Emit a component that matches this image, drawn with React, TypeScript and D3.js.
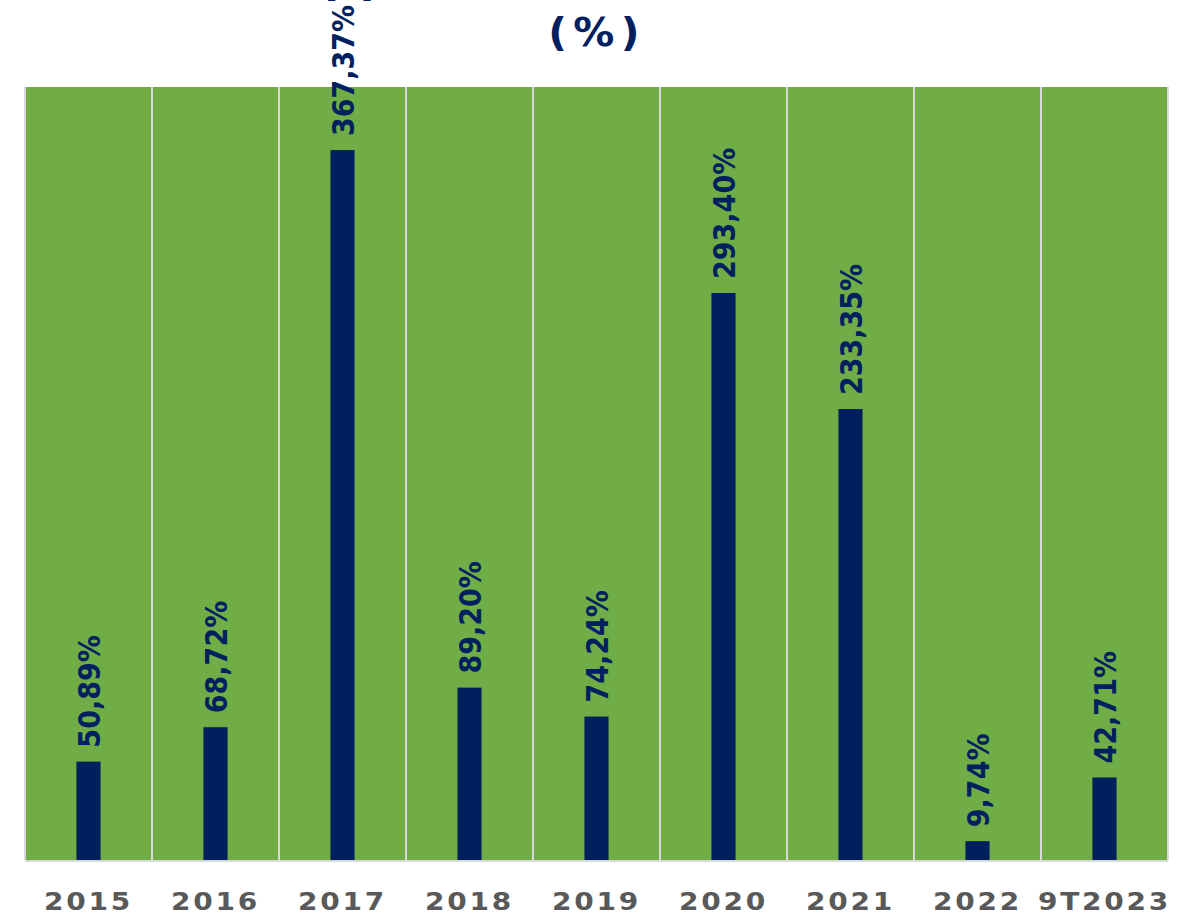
import { useEffect, useRef } from "react";
import * as d3 from "d3";

const years = ["2015", "2016", "2017", "2018", "2019", "2020", "2021", "2022", "9T2023"];
const values = [50.89, 68.72, 367.37, 89.2, 74.24, 293.4, 233.35, 9.74, 42.71];
const titleLines = ["Nợ phải trả/Vốn chủ sở hữu", "(%)"];

const fmt = (v: number) => v.toFixed(2).replace(".", ",") + "%";

export default function App() {
  const svgRef = useRef<SVGSVGElement>(null);

  useEffect(() => {
    const W = 1186;
    const H = 920;
    const margin = { top: 87, right: 18, bottom: 60, left: 25 };
    const width = W - margin.left - margin.right;
    const height = H - margin.top - margin.bottom;

    const svg = d3.select(svgRef.current);
    svg.selectAll("*").remove();

    const x = d3.scaleBand().domain(years).range([0, width]).padding(0);
    const y = d3.scaleLinear().domain([0, 400]).range([height, 0]);
    const barW = x.bandwidth() * 0.19;

    // title, first line is cut off by the top edge like the source
    svg.selectAll(".title")
      .data(titleLines)
      .join("text")
      .attr("class", "title")
      .attr("transform", (d, i) => `translate(597,${i === 0 ? -7 : 46}) scale(1.05,1)`)
      .attr("text-anchor", "middle")
      .style("font-family", "DejaVu Sans")
      .style("font-weight", "bold")
      .style("font-size", "39px")
      .style("letter-spacing", (d, i) => (i === 1 ? "6px" : "0px"))
      .attr("fill", "#002060")
      .text(d => d);

    const g = svg.append("g").attr("transform", `translate(${margin.left},${margin.top})`);

    g.append("rect")
      .attr("width", width)
      .attr("height", height)
      .attr("fill", "#70ad47");

    g.selectAll(".grid")
      .data(d3.range(years.length + 1))
      .join("line")
      .attr("class", "grid")
      .attr("x1", i => i * x.step())
      .attr("x2", i => i * x.step())
      .attr("y1", 0)
      .attr("y2", height)
      .attr("stroke", "#d9d9d9")
      .attr("stroke-width", 2);

    g.append("line")
      .attr("x1", 0)
      .attr("x2", width)
      .attr("y1", height + 1)
      .attr("y2", height + 1)
      .attr("stroke", "#d9d9d9")
      .attr("stroke-width", 2);

    g.selectAll(".bar")
      .data(values)
      .join("rect")
      .attr("class", "bar")
      .attr("x", (d, i) => x(years[i])! + x.bandwidth() / 2 - barW / 2)
      .attr("width", barW)
      .attr("y", d => y(d))
      .attr("height", d => height - y(d))
      .attr("fill", "#001f5c");

    g.selectAll(".label")
      .data(values)
      .join("text")
      .attr("class", "label")
      .attr("transform", (d, i) =>
        `translate(${x(years[i])! + x.bandwidth() / 2 + 1},${y(d) - 14}) scale(1.1,1) rotate(-90)`)
      .attr("dy", "0.36em")
      .style("font-family", "DejaVu Sans")
      .style("font-weight", "bold")
      .style("font-size", "27px")
      .attr("fill", "#002060")
      .text(d => fmt(d));

    g.selectAll(".xlab")
      .data(years)
      .join("text")
      .attr("class", "xlab")
      .attr("transform", d => `translate(${x(d)! + x.bandwidth() / 2},${height + 50}) scale(1.12,1)`)
      .attr("text-anchor", "middle")
      .style("font-family", "DejaVu Sans")
      .style("font-weight", "bold")
      .style("font-size", "25px")
      .style("letter-spacing", "2.5px")
      .attr("fill", "#595959")
      .text(d => d);
  }, []);

  return (
    <svg
      ref={svgRef}
      width={1186}
      height={920}
      style={{ position: "absolute", left: 0, top: 0, background: "#fff" }}
    />
  );
}
